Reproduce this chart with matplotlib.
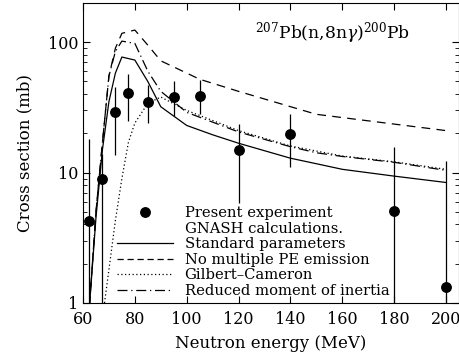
import numpy as np
import matplotlib
matplotlib.use("Agg")
import matplotlib.pyplot as plt
from matplotlib.lines import Line2D
from matplotlib.ticker import LogLocator, FixedLocator, NullFormatter, FuncFormatter

plt.rcParams["font.family"] = "DejaVu Serif"
plt.rcParams["mathtext.fontset"] = "dejavuserif"

# measured points
exp_E = [62.5, 67.5, 72.5, 77.5, 85, 95, 105, 120, 140, 180, 200]
exp_sig = [4.25, 9.0, 29.3, 41, 35, 38, 39, 14.8, 19.9, 5.1, 1.33]
exp_hi = [18, 14, 45.6, 57.5, 47, 50, 51.5, 23.7, 28.3, 15.8, 12.2]
exp_lo = [0.5, 0.5, 13.7, 25, 24, 27, 28, 5.8, 11.1, 0.5, 0.5]

# GNASH curves
std_E = [62.5, 65, 67.5, 70, 72.5, 75, 80, 85, 90, 100, 110, 120, 140, 150, 160, 180, 200]
std_sig = [0.95, 4.5, 15, 35, 58, 77, 73, 50, 32, 23, 19.5, 16.8, 12.9, 11.7, 10.6, 9.4, 8.4]

nope_E = [62.5, 65, 67.5, 70, 72.5, 75, 80, 85, 90, 100, 105, 120, 150, 200]
nope_sig = [0.95, 5, 17, 55, 90, 117, 124, 95, 72, 58, 52, 42, 28, 21]

gc_E = [68.3, 70, 72.5, 75, 77.5, 80, 85, 90, 100, 120, 140, 160, 180, 200]
gc_sig = [1, 1.8, 4.3, 9, 17, 24, 34, 38, 30, 21, 16, 13.4, 12.1, 10.6]

rmi_E = [62.5, 65, 67.5, 70, 72.5, 75, 80, 85, 90, 100, 120, 140, 150, 160, 180, 200]
rmi_sig = [0.95, 5, 17, 55, 85, 102, 98, 60, 42, 29, 20.5, 15.8, 14.2, 13.3, 12, 10.4]

fig = plt.figure(figsize=(4.6, 3.56), dpi=100)
ax = fig.add_axes([0.1804, 0.1489, 0.8174, 0.8427])

lw = 0.9
ax.plot(std_E, std_sig, color="black", lw=lw, ls="-")
ax.plot(nope_E, nope_sig, color="black", lw=lw, ls=(0, (7, 5)))
ax.plot(gc_E, gc_sig, color="black", lw=lw, ls=(0, (1, 2)))
ax.plot(rmi_E, rmi_sig, color="black", lw=lw, ls=(0, (8, 3, 1, 3)))

sig = np.array(exp_sig)
yerr = [sig - np.array(exp_lo), np.array(exp_hi) - sig]
ax.errorbar(exp_E, exp_sig, yerr=yerr, fmt="o", color="black", ms=6.8,
            elinewidth=0.9, capsize=0)

ax.set_yscale("log")
ax.set_xlim(60, 205)
ax.set_ylim(1, 200)
ax.xaxis.set_major_locator(FixedLocator([60, 80, 100, 120, 140, 160, 180, 200]))
ax.yaxis.set_major_locator(FixedLocator([1, 10, 100]))
ax.yaxis.set_major_formatter(FuncFormatter(lambda v, p: f"{v:g}"))
ax.yaxis.set_minor_locator(LogLocator(base=10, subs=np.arange(2, 10)))
ax.yaxis.set_minor_formatter(NullFormatter())
ax.tick_params(which="both", direction="in", top=True, right=True, labelsize=11.5)
ax.tick_params(axis="x", pad=6)
ax.tick_params(which="major", length=5)
ax.tick_params(which="minor", length=3)

ax.set_xlabel("Neutron energy (MeV)", fontsize=12, labelpad=5)
ax.set_ylabel("Cross section (mb)", fontsize=12, labelpad=10)

ax.text(0.665, 0.9, r"$^{207}$Pb(n,8n$\gamma$)$^{200}$Pb", transform=ax.transAxes,
        ha="center", va="center", fontsize=12.3)

handles = [
    Line2D([], [], color="black", marker="o", ls="none", ms=6.8),
    Line2D([], [], color="none"),
    Line2D([], [], color="black", lw=lw, ls="-"),
    Line2D([], [], color="black", lw=lw, ls=(0, (5, 3))),
    Line2D([], [], color="black", lw=lw, ls=(0, (1, 2))),
    Line2D([], [], color="black", lw=lw, ls=(0, (8, 3, 1, 3))),
]
labels = ["Present experiment", "GNASH calculations.", "Standard parameters",
          "No multiple PE emission", "Gilbert\u2013Cameron", "Reduced moment of inertia"]
ax.legend(handles, labels, loc="upper left", bbox_to_anchor=(0.09, 0.322),
          frameon=False, fontsize=10.6, handlelength=3.8, handletextpad=0.8,
          labelspacing=0.1, borderpad=0, borderaxespad=0)

fig.savefig("out.png", dpi=100)
